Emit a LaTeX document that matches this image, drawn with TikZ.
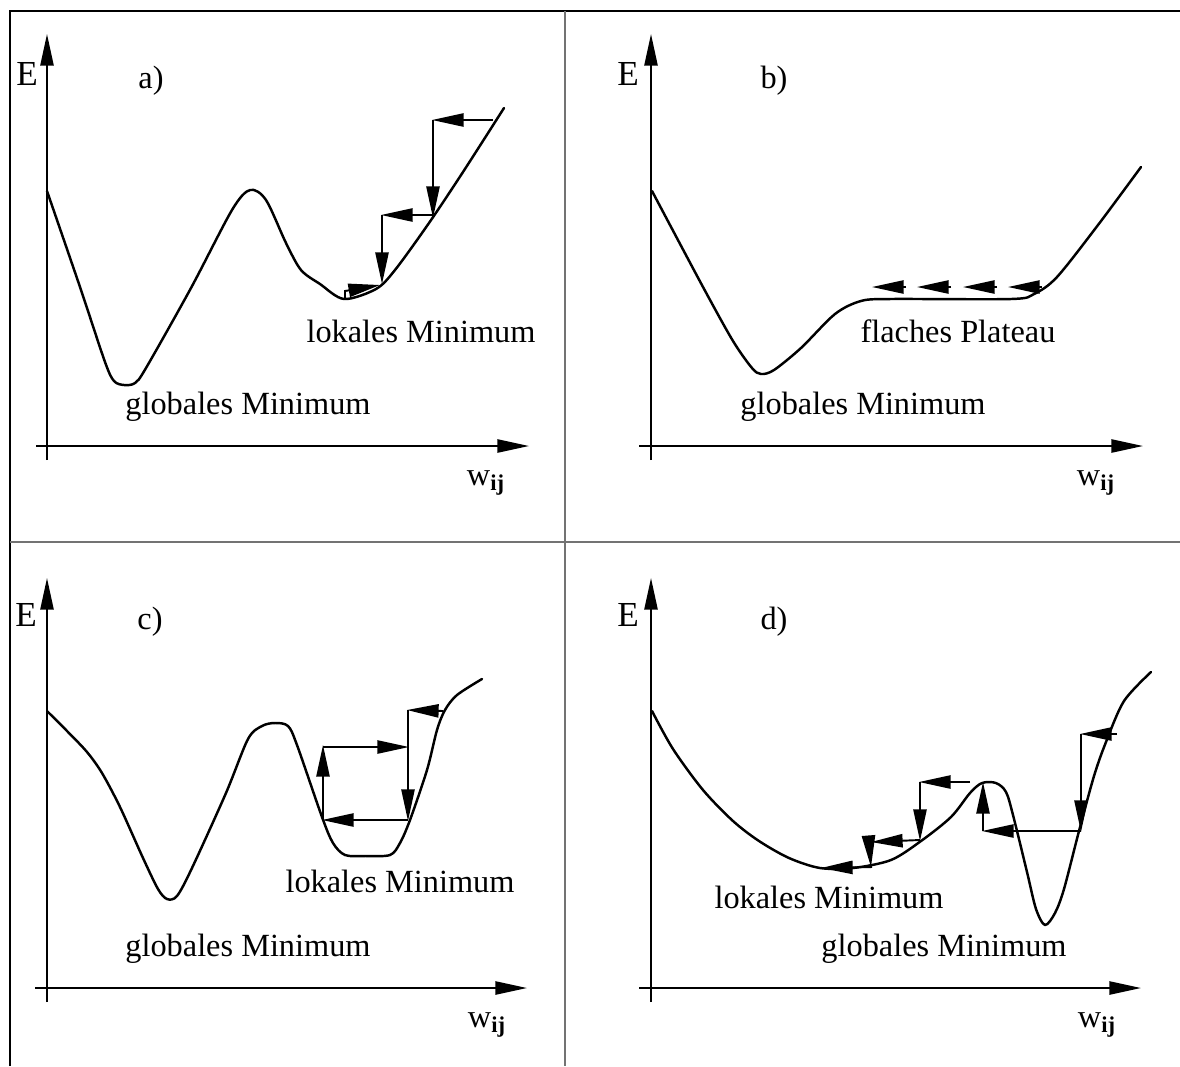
\documentclass[tikz,border=0pt]{standalone}
\usepackage{fontspec}
\setmainfont{Liberation Serif}
\usetikzlibrary{arrows.meta}

\begin{document}
\begin{tikzpicture}[x=.02cm,y=-.02cm,
  font=\fontsize{18.4}{22}\selectfont,
  kurve/.style={line width=1.4pt,line join=round,line cap=round},
  achse/.style={line width=1.1pt,-{Triangle[length=18pt,width=7.5pt]}},
  schritt/.style={line width=1.1pt,-{Triangle[length=18pt,width=7.5pt]}},
  lbl/.style={anchor=base,inner sep=0pt}]
\useasboundingbox (0,0) rectangle (1180,1066);
% frame and dividers
\draw[line width=1.4pt] (10,1066) -- (10,11) -- (1180,11);
\draw[black!55,line width=.8pt] (565,11) -- (565,1066);
\draw[black!55,line width=.8pt] (10,542) -- (1180,542);

% a) local minimum
\draw[achse] (47,460) -- (47,34);
\draw[achse] (36,446) -- (529,446);
\node[lbl,font=\fontsize{20}{24}\selectfont] (Ea) at (27,85) {E};
\node[lbl] (taga) at (151,88) {a)};
\node[lbl] (wa) at (486,485) {w\textsubscript{\textbf{ij}}};
\draw[kurve] plot[smooth,tension=.5] coordinates {(47,191) (80,287) (105,362) (114,381) (124,385) (135,383) (146,368) (191,288) (232,210) (250,190) (266,200) (286,243) (301,270) (320,284) (344,299) (376,289) (395,270) (429,223) (463,172) (504,108)};
\draw[schritt] (493,120) -- (432,120);
\draw[schritt] (433,120) -- (433,218);
\draw[schritt] (433,215) -- (381,215);
\draw[schritt] (382,215) -- (382,284);
\draw[schritt] (345,299) -- (345,291) -- (380,285);
\node[lbl] (loka) at (421,342) {lokales Minimum};
\node[lbl] (globa) at (248,414) {globales Minimum};

% b) flat plateau
\draw[achse] (651,460) -- (651,34);
\draw[achse] (639,446) -- (1143,446);
\node[lbl,font=\fontsize{20}{24}\selectfont] (Eb) at (628,85) {E};
\node[lbl] (tagb) at (774,88) {b)};
\node[lbl] (wb) at (1096,485) {w\textsubscript{\textbf{ij}}};
\draw[kurve] plot[smooth,tension=.5] coordinates {(652,191) (703,287) (733,341) (752,368) (761,374) (774,370) (801,348) (835,314) (861,301) (891,299) (1011,299) (1034,294) (1057,277) (1098,225) (1141,167)};
\draw[schritt] (1042,287) -- (1008,287);
\draw[schritt] (997,287) -- (963,287);
\draw[schritt] (951,287) -- (917,287);
\draw[schritt] (906,287) -- (872,287);
\node[lbl] (platb) at (958,342) {flaches Plateau};
\node[lbl] (globb) at (863,414) {globales Minimum};

% c) oscillation in a narrow valley
\draw[achse] (47,1002) -- (47,578);
\draw[achse] (35,988) -- (527,988);
\node[lbl,font=\fontsize{20}{24}\selectfont] (Ec) at (26,626) {E};
\node[lbl] (tagc) at (150,629) {c)};
\node[lbl] (wc) at (487,1027) {w\textsubscript{\textbf{ij}}};
\draw[kurve] plot[smooth,tension=.5] coordinates {(47,711) (68,732) (87,752) (102,773) (120,807) (143,858) (158,889) (167,899) (177,896) (192,868) (226,793) (248,739) (262,726) (275,723) (288,726) (297,745) (322,817) (333,843) (345,855) (365,856) (390,855) (400,843) (410,820) (427,770) (437,730) (445,710) (457,695) (482,679)};
\draw[schritt] (443,711) -- (407,710);
\draw[schritt] (408,710) -- (408,821);
\draw[schritt] (408,820) -- (322,820);
\draw[schritt] (323,820) -- (323,745);
\draw[schritt] (323,747) -- (409,747);
\node[lbl] (lokc) at (400,892) {lokales Minimum};
\node[lbl] (globc) at (248,956) {globales Minimum};

% d) leaving a good minimum
\draw[achse] (651,1002) -- (651,578);
\draw[achse] (639,988) -- (1141,988);
\node[lbl,font=\fontsize{20}{24}\selectfont] (Ed) at (628,626) {E};
\node[lbl] (tagd) at (774,629) {d)};
\node[lbl] (wd) at (1097,1027) {w\textsubscript{\textbf{ij}}};
\draw[kurve] plot[smooth,tension=.5] coordinates {(652,711) (673,749) (703,790) (733,821) (759,841) (789,858) (820,868) (853,868) (891,860) (921,841) (951,817) (970,793) (982,783) (996,783) (1006,792) (1013,815) (1027,872) (1036,909) (1045,925) (1055,913) (1064,889) (1079,831) (1094,776) (1106,742) (1124,701) (1151,672)};
\draw[schritt] (1117,734) -- (1080,734);
\draw[schritt] (1081,734) -- (1081,832);
\draw[schritt] (1081,831) -- (982,831);
\draw[schritt] (983,831) -- (983,782);
\draw[schritt] (970,782) -- (919,782);
\draw[schritt] (920,782) -- (920,841);
\draw[schritt] (920,840) -- (871,842);
\draw[schritt] (869,842) -- (871,867);
\draw[schritt] (872,867) -- (821,868);
\node[lbl] (lokd) at (829,908) {lokales Minimum};
\node[lbl] (globd) at (944,956) {globales Minimum};
\end{tikzpicture}
\end{document}
